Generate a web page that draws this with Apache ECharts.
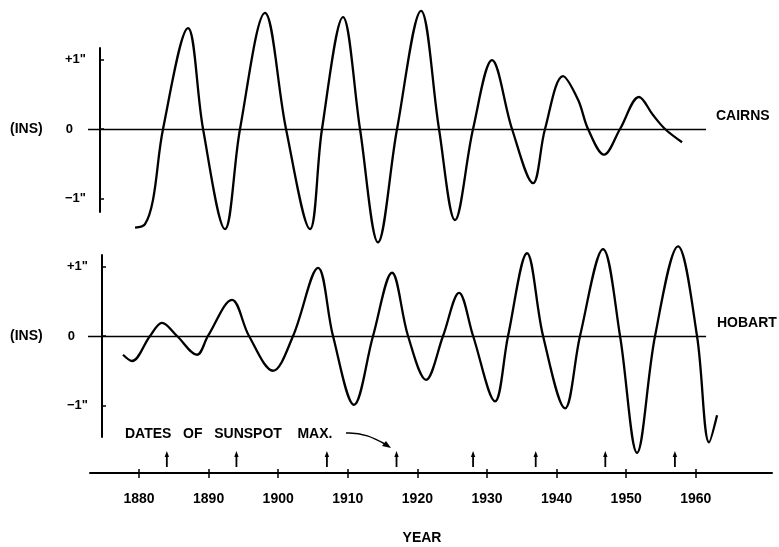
<!DOCTYPE html>
<html>
<head>
<meta charset="utf-8">
<script src="https://cdn.jsdelivr.net/npm/echarts@6/dist/echarts.min.js"></script>
<style>
  html, body { margin: 0; padding: 0; background: #fff; }
  #chart { width: 779px; height: 547px; }
</style>
</head>
<body>
<div id="chart"></div>
<script>
// Sea-level oscillation (inches) at Cairns and Hobart, with dates of sunspot maxima
const cairnsYears = [1879.43, 1880.86, 1882.01, 1883.45, 1887.04, 1889.20, 1892.36, 1894.51, 1898.10, 1901.12,
  1904.57, 1906.29, 1909.31, 1911.75, 1914.34, 1917.07, 1920.52, 1923.10, 1925.40, 1927.99,
  1930.72, 1933.59, 1936.61, 1938.33, 1940.92, 1943.08, 1944.51, 1946.81, 1949.11, 1951.84,
  1953.85, 1955.57, 1958.02];
const cairnsInches = [-1.42, -1.37, -1.02, 0.00, 1.45, 0.00, -1.44, 0.00, 1.67, 0.00,
  -1.44, 0.00, 1.61, 0.00, -1.63, 0.00, 1.70, 0.00, -1.31, 0.00,
  0.99, 0.00, -0.78, 0.00, 0.76, 0.42, 0.00, -0.37, 0.00, 0.46,
  0.20, 0.00, -0.19];

const hobartYears = [1877.70, 1878.99, 1881.58, 1883.30, 1885.46, 1888.33, 1889.91, 1893.36, 1895.80, 1899.25,
  1902.13, 1905.72, 1907.87, 1910.89, 1913.62, 1916.35, 1918.65, 1921.24, 1923.68, 1925.98,
  1928.00, 1931.15, 1933.02, 1935.75, 1938.05, 1941.21, 1943.36, 1946.67, 1949.11, 1951.55,
  1954.14, 1957.44, 1960.17, 1961.90, 1963.05];
const hobartInches = [-0.27, -0.36, 0.00, 0.19, 0.00, -0.27, 0.00, 0.52, 0.00, -0.50,
  0.00, 0.98, 0.00, -0.99, 0.00, 0.91, 0.00, -0.63, 0.00, 0.62,
  0.00, -0.94, 0.00, 1.19, 0.00, -1.04, 0.00, 1.25, 0.00, -1.68,
  0.00, 1.29, 0.00, -1.53, -1.14];

const sunspotMaxYears = [1884, 1894, 1907, 1917, 1928, 1937, 1947, 1957];
const yearTicks = [1880, 1890, 1900, 1910, 1920, 1930, 1940, 1950, 1960];
const inchTicks = [-1, 0, 1];
const inchTickLabels = ['\u22121"', '0', '+1"'];

// year span covered by each panel's zero line
const zeroLineSpan = [1872.67, 1961.47];
// year span of the panels' horizontal scale (wide enough for the last Hobart readings)
const panelSpan = [1872.67, 1964.19];
// year span of the shared YEAR axis
const yearAxisSpan = [1872.96, 1970.95];

const FONT = '"Liberation Sans", Arial, sans-serif';
const INK = '#000';

function zip(xs, ys) { return xs.map((x, i) => [x, ys[i]]); }

function inchLabel(v) {
  const i = inchTicks.indexOf(Math.round(v));
  const t = inchTickLabels[i];
  return v === 0 ? '{z|' + t + '}' : t;
}

function panelYAxis(gridIndex, min, max, offset) {
  return {
    type: 'value', gridIndex, min, max, offset,
    axisLine: { show: true, lineStyle: { color: INK, width: 2 } },
    axisTick: { show: true, inside: true, length: 4, customValues: inchTicks, lineStyle: { color: INK, width: 1.5 } },
    axisLabel: {
      customValues: inchTicks, formatter: inchLabel, margin: 14,
      color: INK, fontFamily: FONT, fontWeight: 'bold', fontSize: 13,
      rich: { z: { padding: [0, 13, 0, 0], color: INK, fontFamily: FONT, fontWeight: 'bold', fontSize: 13 } }
    },
    splitLine: { show: false }
  };
}

function panelXAxis(gridIndex) {
  return {
    type: 'value', gridIndex, min: panelSpan[0], max: panelSpan[1],
    axisLine: { show: false }, axisTick: { show: false }, axisLabel: { show: false }, splitLine: { show: false }
  };
}

function zeroLine() {
  return {
    silent: true, symbol: ['none', 'none'], label: { show: false },
    lineStyle: { color: INK, width: 1.4, type: 'solid' },
    emphasis: { disabled: true },
    data: [[{ coord: [zeroLineSpan[0], 0] }, { coord: [zeroLineSpan[1], 0] }]]
  };
}

function curve(name, idx, years, inches) {
  return {
    name, type: 'line', xAxisIndex: idx, yAxisIndex: idx,
    data: zip(years, inches), smooth: 0.35, showSymbol: false, clip: false,
    lineStyle: { color: INK, width: 2.3 },
    markLine: zeroLine()
  };
}

const chart = echarts.init(document.getElementById('chart'), null, { renderer: 'canvas' });

const label = (text, x, y, align) => ({
  type: 'text', x, y,
  style: { text, fill: INK, font: 'bold 14px ' + FONT, textAlign: align || 'left', textVerticalAlign: 'middle', align: align || 'left', verticalAlign: 'middle' }
});

chart.setOption({
  animation: false,
  backgroundColor: '#fff',
  grid: [
    { left: 88, top: 48, width: 637, height: 164 },
    { left: 88, top: 255, width: 637, height: 182 },
    { left: 90, top: 443, width: 682, height: 30 }
  ],
  xAxis: [
    panelXAxis(0),
    panelXAxis(1),
    {
      type: 'value', gridIndex: 2, min: yearAxisSpan[0], max: yearAxisSpan[1], position: 'bottom',
      axisLine: { show: true, onZero: false, lineStyle: { color: INK, width: 2 } },
      axisTick: { show: true, length: 5, customValues: yearTicks, lineStyle: { color: INK, width: 1.5 } },
      axisLabel: { customValues: yearTicks, formatter: v => String(v), margin: 19, color: INK, fontFamily: FONT, fontWeight: 'bold', fontSize: 14 },
      splitLine: { show: false }
    },
    {
      type: 'value', gridIndex: 2, min: yearAxisSpan[0], max: yearAxisSpan[1], position: 'bottom',
      axisLine: { show: false, onZero: false },
      axisTick: { show: true, inside: true, length: 4, customValues: yearTicks, lineStyle: { color: INK, width: 1.5 } },
      axisLabel: { show: false }, splitLine: { show: false }
    }
  ],
  yAxis: [
    panelYAxis(0, -1.194, 1.165, -12),
    panelYAxis(1, -1.453, 1.165, -14),
    { type: 'value', gridIndex: 2, min: 0, max: 1, show: false }
  ],
  series: [
    curve('CAIRNS', 0, cairnsYears, cairnsInches),
    curve('HOBART', 1, hobartYears, hobartInches),
    {
      name: 'Sunspot maxima', type: 'custom', xAxisIndex: 2, yAxisIndex: 2,
      data: sunspotMaxYears.map(y => [y, 0]),
      renderItem: function (params, api) {
        const base = api.coord([api.value(0), 0.2]);
        const tip = api.coord([api.value(0), 0.7]);
        return {
          type: 'group',
          children: [
            { type: 'line', shape: { x1: base[0], y1: base[1], x2: tip[0], y2: tip[1] + 3 }, style: { stroke: INK, lineWidth: 1.8 } },
            { type: 'polygon', shape: { points: [[tip[0], tip[1] - 1], [tip[0] - 2.2, tip[1] + 5], [tip[0] + 2.2, tip[1] + 5]] }, style: { fill: INK } }
          ]
        };
      }
    }
  ],
  graphic: [
    label('CAIRNS', 716, 116),
    label('HOBART', 717, 323),
    label('(INS)', 10, 129),
    label('(INS)', 10, 336),
    label('DATES   OF   SUNSPOT    MAX.', 125, 434),
    label('YEAR', 422, 538, 'center'),
    {
      type: 'bezierCurve',
      shape: { x1: 346, y1: 433, cpx1: 362, cpy1: 432, cpx2: 374, cpy2: 438, x2: 385, y2: 444 },
      style: { stroke: INK, lineWidth: 1.5, fill: null }
    },
    {
      type: 'polygon',
      shape: { points: [[391, 448], [382, 446], [386, 441]] },
      style: { fill: INK }
    }
  ]
});
</script>
</body>
</html>
